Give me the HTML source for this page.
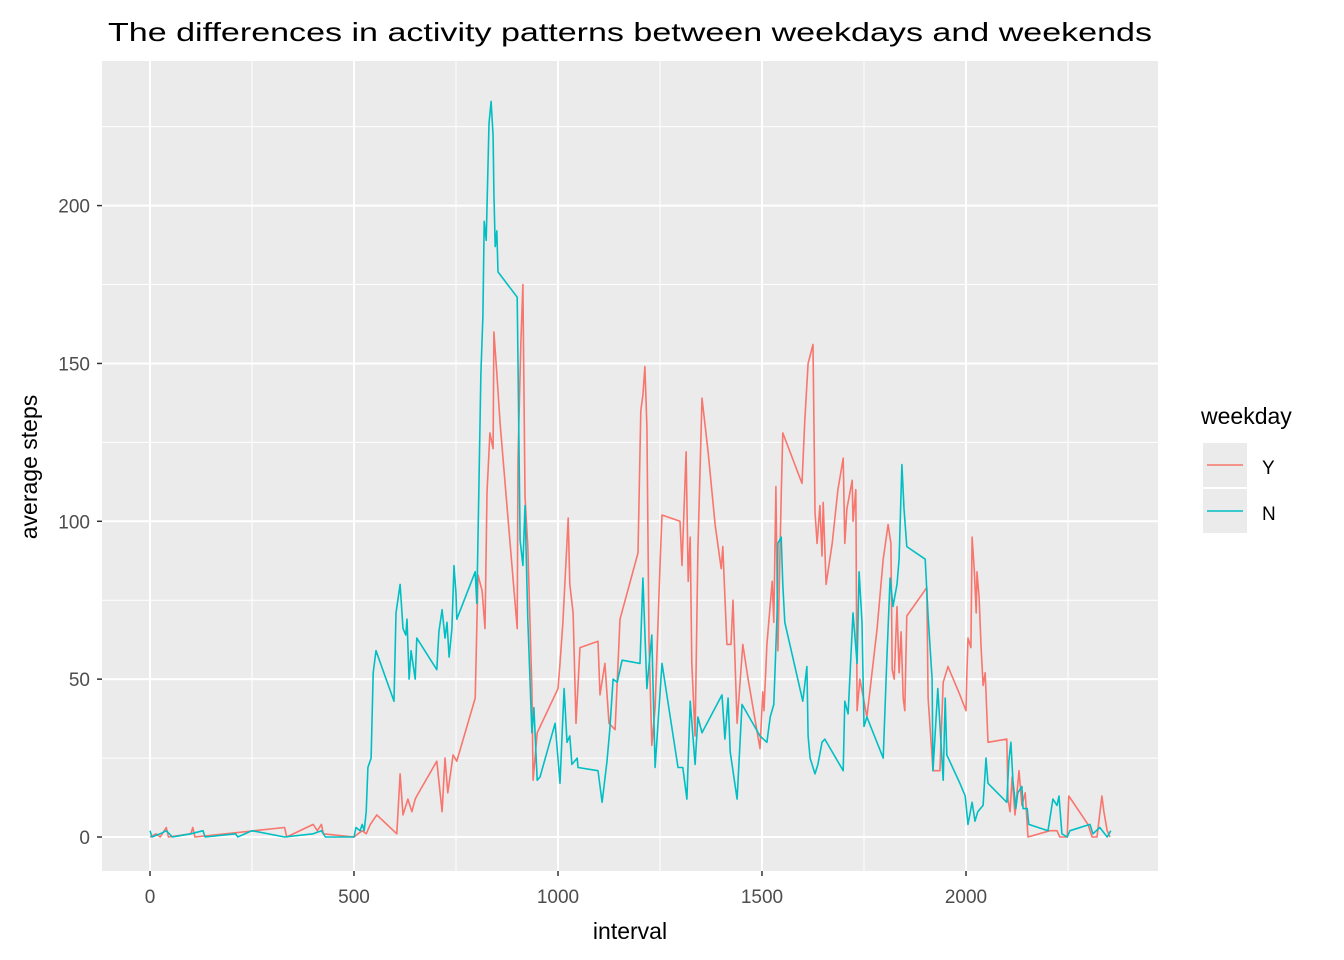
<!DOCTYPE html>
<html><head><meta charset="utf-8"><style>
html,body{margin:0;padding:0;background:#fff;}
svg{display:block;font-family:"Liberation Sans",Arial,sans-serif;}
</style></head><body>
<svg id="chart" width="1344" height="960" viewBox="0 0 1344 960">
<text x="630" y="41" text-anchor="middle" font-size="26" fill="#000" textLength="1044" lengthAdjust="spacingAndGlyphs">The differences in activity patterns between weekdays and weekends</text>
<rect x="102" y="61" width="1056" height="810" fill="#EBEBEB"/>
<g id="grid"></g>
<g id="series"></g>
<g id="axes"></g>
<text x="630" y="939" text-anchor="middle" font-size="23" fill="#000">interval</text>
<text transform="translate(37,467) rotate(-90)" text-anchor="middle" font-size="23" fill="#000">average steps</text>
<g>
<text x="1201" y="424" font-size="23" fill="#000">weekday</text>
<rect x="1203" y="443" width="44" height="44" fill="#EBEBEB"/>
<line x1="1207" y1="465" x2="1243" y2="465" stroke="#F8766D" stroke-width="1.5"/>
<text x="1262" y="474" font-size="19" fill="#000">Y</text>
<rect x="1203" y="489" width="44" height="44" fill="#EBEBEB"/>
<line x1="1207" y1="511" x2="1243" y2="511" stroke="#00BFC4" stroke-width="1.5"/>
<text x="1262" y="520" font-size="19" fill="#000">N</text>
</g>
</svg>
<script>
const xTicks = [0, 500, 1000, 1500, 2000];
const xMinor = [250, 750, 1250, 1750, 2250];
const yTicks = [0, 50, 100, 150, 200];
const yMinor = [25, 75, 125, 175, 225];
const seriesY = [[0,0],[15,1],[25,0],[40,3],[45,0],[100,1],[105,3],[110,0],[330,3],[335,0],[400,4],[410,2],[420,4],[425,1],[500,0],[510,1],[520,2],[530,1],[540,4],[556,7],[605,1],[613,20],[620,7],[632,12],[642,8],[650,12],[654,13],[703,24],[716,8],[723,25],[730,14],[743,26],[752,24],[797,44],[804,83],[814,78],[821,66],[826,109],[833,128],[841,123],[843,160],[850,147],[858,131],[900,66],[902,120],[909,157],[914,175],[919,108],[926,92],[936,47],[939,18],[949,33],[1000,47],[1005,55],[1012,68],[1025,101],[1029,80],[1037,71],[1044,36],[1054,60],[1098,62],[1103,45],[1115,55],[1125,36],[1140,34],[1152,69],[1196,90],[1203,135],[1208,140],[1213,149],[1218,130],[1223,62],[1230,29],[1238,41],[1250,86],[1255,102],[1299,100],[1304,86],[1314,122],[1319,81],[1324,95],[1328,55],[1336,32],[1343,91],[1353,139],[1368,122],[1385,99],[1400,85],[1404,92],[1414,61],[1424,61],[1429,75],[1439,36],[1453,61],[1466,50],[1495,28],[1502,46],[1505,40],[1512,61],[1525,81],[1529,68],[1534,111],[1539,59],[1547,108],[1551,128],[1598,112],[1605,132],[1613,150],[1625,156],[1630,103],[1635,93],[1642,105],[1647,89],[1650,106],[1657,80],[1672,93],[1686,110],[1699,120],[1703,93],[1708,104],[1721,113],[1723,100],[1730,110],[1733,40],[1740,50],[1757,38],[1782,66],[1797,88],[1809,99],[1816,93],[1819,53],[1824,50],[1831,73],[1836,52],[1841,65],[1846,44],[1850,40],[1855,70],[1904,79],[1907,44],[1919,21],[1936,21],[1944,49],[1956,54],[1985,45],[2000,40],[2002,51],[2005,63],[2012,60],[2015,95],[2020,85],[2025,71],[2027,84],[2032,76],[2037,60],[2042,48],[2047,52],[2054,30],[2100,31],[2103,12],[2108,8],[2113,19],[2120,7],[2130,21],[2137,10],[2145,14],[2152,0],[2206,2],[2223,2],[2230,0],[2248,0],[2252,13],[2299,4],[2309,0],[2321,0],[2333,13],[2338,8],[2346,2],[2353,0]];
const seriesN = [[0,2],[5,0],[25,1],[40,2],[55,0],[100,1],[130,2],[135,0],[210,1],[215,0],[250,2],[330,0],[400,1],[420,2],[430,0],[500,0],[505,3],[515,2],[520,4],[525,2],[530,8],[534,22],[542,25],[547,52],[554,59],[598,43],[603,71],[613,80],[620,66],[627,64],[630,69],[635,50],[640,59],[650,50],[654,63],[703,53],[708,65],[716,72],[723,63],[728,68],[733,57],[740,66],[745,86],[750,77],[752,69],[797,84],[801,74],[806,109],[811,147],[816,165],[819,195],[824,189],[831,226],[836,233],[841,222],[843,204],[846,187],[850,192],[853,179],[900,171],[902,150],[907,94],[914,86],[919,105],[926,69],[936,33],[941,41],[949,18],[956,19],[993,36],[1005,17],[1015,47],[1022,30],[1029,32],[1034,23],[1047,25],[1049,22],[1098,21],[1108,11],[1120,24],[1127,34],[1135,50],[1145,49],[1157,56],[1201,55],[1208,82],[1218,47],[1230,64],[1238,22],[1255,55],[1294,22],[1306,22],[1316,12],[1324,43],[1336,23],[1343,38],[1353,33],[1402,45],[1409,31],[1417,44],[1422,27],[1439,12],[1451,42],[1495,32],[1512,30],[1520,38],[1529,42],[1537,71],[1539,93],[1547,95],[1551,80],[1556,68],[1600,43],[1610,54],[1613,32],[1618,25],[1630,20],[1637,23],[1647,30],[1654,31],[1699,21],[1703,43],[1711,39],[1716,52],[1723,71],[1733,55],[1738,84],[1745,68],[1750,35],[1757,38],[1797,25],[1806,56],[1814,82],[1821,73],[1831,80],[1836,88],[1843,118],[1848,104],[1855,92],[1900,88],[1907,70],[1917,50],[1919,21],[1931,47],[1944,18],[1949,44],[1953,26],[1985,17],[1998,13],[2005,4],[2015,11],[2022,5],[2029,8],[2042,10],[2049,25],[2054,17],[2100,11],[2105,24],[2110,30],[2115,18],[2122,9],[2127,14],[2137,16],[2140,9],[2150,9],[2154,4],[2201,2],[2213,12],[2223,10],[2228,13],[2235,1],[2248,0],[2255,2],[2304,4],[2311,1],[2328,3],[2346,0],[2355,2]];

const NS = 'http://www.w3.org/2000/svg';
const PX0 = 102, PX1 = 1158, PY0 = 61, PY1 = 871;
function xs(v){ return 150 + v * 0.408; }
function ys(v){ return 837 - v * 3.157; }
function mk(tag, attrs, parent){ const e = document.createElementNS(NS, tag); for (const k in attrs) e.setAttribute(k, attrs[k]); parent.appendChild(e); return e; }
const grid = document.getElementById('grid');
const axes = document.getElementById('axes');
const series = document.getElementById('series');
xMinor.forEach(v => {
  const l = mk('line', {x1: xs(v), x2: xs(v), y1: PY0, y2: PY1, stroke: '#fff', 'stroke-width': 1}, grid);
  
  
});
yMinor.forEach(v => {
  const l = mk('line', {x1: PX0, x2: PX1, y1: ys(v), y2: ys(v), stroke: '#fff', 'stroke-width': 1}, grid);
  
  
});
xTicks.forEach(v => {
  const l = mk('line', {x1: xs(v), x2: xs(v), y1: PY0, y2: PY1, stroke: '#fff', 'stroke-width': 2}, grid);
  
  
  const t = mk('line', {x1: xs(v), x2: xs(v), y1: PY1, y2: PY1 + 5, stroke: '#333', 'stroke-width': 1.5}, axes);
  
  
  const tx = mk('text', {x: xs(v), y: 903, 'text-anchor': 'middle', 'font-size': 19, fill: '#4D4D4D'}, axes);
  tx.textContent = String(v);
  
  
});
yTicks.forEach(v => {
  const l = mk('line', {x1: PX0, x2: PX1, y1: ys(v), y2: ys(v), stroke: '#fff', 'stroke-width': 2}, grid);
  
  
  const t = mk('line', {x1: PX0 - 5, x2: PX0, y1: ys(v), y2: ys(v), stroke: '#333', 'stroke-width': 1.5}, axes);
  
  
  const tx = mk('text', {x: 90, y: ys(v) + 7, 'text-anchor': 'end', 'font-size': 19, fill: '#4D4D4D'}, axes);
  tx.textContent = String(v);
  
  
});
function drawLine(data, color, name){
  const d = data.map((p, i) => (i ? 'L' : 'M') + xs(p[0]).toFixed(1) + ' ' + ys(p[1]).toFixed(1)).join(' ');
  const path = mk('path', {d: d, fill: 'none', stroke: color, 'stroke-width': 1.6, 'stroke-linejoin': 'round'}, series);
  
  
}
drawLine(seriesY, '#F8766D', 'line-weekday-y');
drawLine(seriesN, '#00BFC4', 'line-weekday-n');
</script>
</body></html>
